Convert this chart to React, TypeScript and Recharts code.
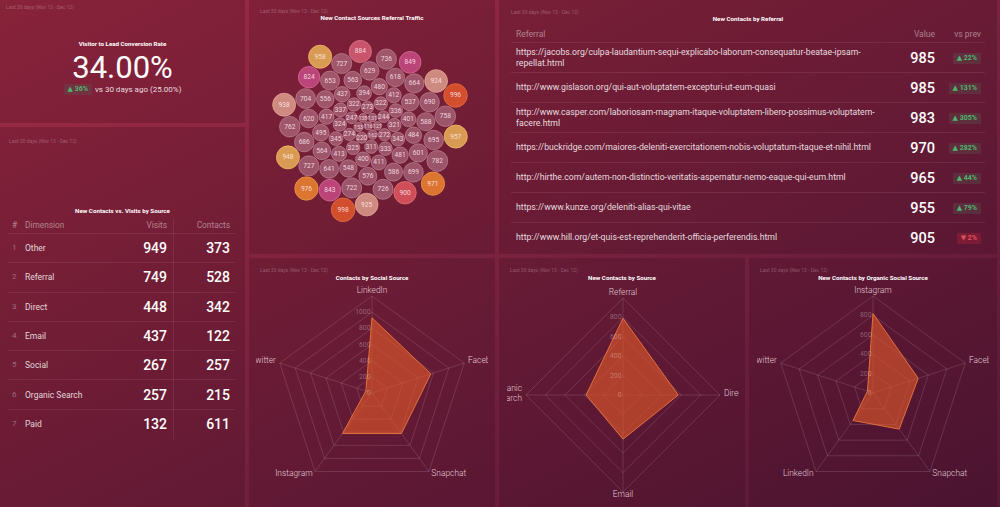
import React from 'react';
import {
  RadarChart,
  Radar,
  PolarGrid,
  PolarAngleAxis,
  PolarRadiusAxis,
  ScatterChart,
  Scatter,
  XAxis,
  YAxis,
  ZAxis,
} from 'recharts';

const FONT = 'Roboto, "Noto Sans", "DejaVu Sans", sans-serif';
const PERIOD = 'Last 30 days (Nov 13 - Dec 12)';

// KPI
const kpiTitle = 'Visitor to Lead Conversion Rate';
const kpiValue = 34.0;
const kpiPrev = 25.0;
const kpiChange = 36;

// table: contacts vs visits
const sourceTitle = 'New Contacts vs. Visits by Source';
const sourceDims = ['Other', 'Referral', 'Direct', 'Email', 'Social', 'Organic Search', 'Paid'];
const sourceVisits = [949, 749, 448, 437, 267, 257, 132];
const sourceContacts = [373, 528, 342, 122, 257, 215, 611];

// bubbles
const bubbleTitle = 'New Contact Sources Referral Traffic';
const bubbleValues = [
  537, 484, 998, 563, 576, 556, 480, 411, 958, 976, 548, 481, 394, 400, 412, 957, 971,
  629, 564, 495, 336, 401, 322, 325, 322, 653, 586, 413, 437, 343, 274, 337, 324, 924,
  996, 641, 620, 588, 417, 333, 116, 162, 321, 311, 938, 138, 153, 272, 127, 273, 220,
  664, 618, 345, 131, 704, 244, 843, 948, 686, 690, 601, 726, 736, 247, 925, 849, 699,
  695, 758, 722, 727, 727, 900, 782, 884, 762, 824,
];

// referral table
const referralTitle = 'New Contacts by Referral';
const referralUrls = [
  'https://jacobs.org/culpa-laudantium-sequi-explicabo-laborum-consequatur-beatae-ipsam-repellat.html',
  'http://www.gislason.org/qui-aut-voluptatem-excepturi-ut-eum-quasi',
  'http://www.casper.com/laboriosam-magnam-itaque-voluptatem-libero-possimus-voluptatem-facere.html',
  'https://buckridge.com/maiores-deleniti-exercitationem-nobis-voluptatum-itaque-et-nihil.html',
  'http://hirthe.com/autem-non-distinctio-veritatis-aspernatur-nemo-eaque-qui-eum.html',
  'https://www.kunze.org/deleniti-alias-qui-vitae',
  'http://www.hill.org/et-quis-est-reprehenderit-officia-perferendis.html',
];
const referralValues = [985, 985, 983, 970, 965, 955, 905];
const referralChange = [22, 131, 305, 282, 44, 79, -2];

// radars
const socialTitle = 'Contacts by Social Source';
const socialAxes = ['LinkedIn', 'Facebook', 'Snapchat', 'Instagram', 'Twitter'];
const socialValues = [930, 765, 620, 620, 80];

const channelTitle = 'New Contacts by Source';
const channelAxes = ['Referral', 'Direct', 'Email', 'Organic Search'];
const channelValues = [790, 570, 455, 380];

const organicTitle = 'New Contacts by Organic Social Source';
const organicAxes = ['Instagram', 'Facebook', 'Snapchat', 'LinkedIn', 'Twitter'];
const organicValues = [820, 490, 460, 350, 60];

const PANEL_BG = 'rgba(30,0,15,0.18)';
const LINE = 'rgba(255,255,255,0.08)';
const GREEN = '#4cb86c';
const RED = '#e0505a';

// ---------- bubble packing (layout computed from the values) ----------
const BUBBLE_MAX_V = 998;
const BUBBLE_MAX_R = 11.8;
const bubbleRadius = (v: number) => BUBBLE_MAX_R * Math.sqrt(v / BUBBLE_MAX_V);

function packBubbles(values: number[]) {
  const order = values.map((v) => ({ v, r: bubbleRadius(v) })).sort((a, b) => a.v - b.v);
  const pad = 1;
  const placed: { x: number; y: number; r: number; v: number }[] = [];
  for (const c of order) {
    if (placed.length === 0) {
      placed.push({ x: 0, y: 0, r: c.r, v: c.v });
      continue;
    }
    if (placed.length === 1) {
      placed.push({ x: placed[0].r + c.r + pad, y: 0, r: c.r, v: c.v });
      continue;
    }
    let best = { x: 0, y: 0 };
    let bestScore = Infinity;
    for (let a = 0; a < placed.length; a++) {
      for (let b = a + 1; b < placed.length; b++) {
        const A = placed[a];
        const B = placed[b];
        const ra = A.r + c.r + pad;
        const rb = B.r + c.r + pad;
        const dx = B.x - A.x;
        const dy = B.y - A.y;
        const d = Math.hypot(dx, dy);
        if (d === 0 || d > ra + rb || d < Math.abs(ra - rb)) continue;
        const l = (ra * ra - rb * rb + d * d) / (2 * d);
        const h = Math.sqrt(Math.max(0, ra * ra - l * l));
        const mx = A.x + (dx * l) / d;
        const my = A.y + (dy * l) / d;
        for (const s of [1, -1]) {
          const x = mx - (s * h * dy) / d;
          const y = my + (s * h * dx) / d;
          const score = (x / 1.1) ** 2 + y * y;
          if (score >= bestScore) continue;
          let ok = true;
          for (const P of placed) {
            if (Math.hypot(P.x - x, P.y - y) < P.r + c.r + pad - 1e-6) {
              ok = false;
              break;
            }
          }
          if (ok) {
            best = { x, y };
            bestScore = score;
          }
        }
      }
    }
    placed.push({ x: best.x, y: best.y, r: c.r, v: c.v });
  }
  const minX = Math.min(...placed.map((p) => p.x - p.r));
  const maxX = Math.max(...placed.map((p) => p.x + p.r));
  const minY = Math.min(...placed.map((p) => p.y - p.r));
  const maxY = Math.max(...placed.map((p) => p.y + p.r));
  const ox = (minX + maxX) / 2;
  const oy = (minY + maxY) / 2;
  return placed.map((p) => ({ x: p.x - ox, y: p.y - oy, z: p.v }));
}

const bubbleData = packBubbles(bubbleValues);

function bubbleColor(v: number) {
  if (v >= 990) return { fill: '#d24e2c', stroke: '#e8703f' };
  if (v >= 965) return { fill: '#db7530', stroke: '#ef9a4a' };
  if (v >= 945) return { fill: '#d99a52', stroke: '#f0bb6a' };
  if (v >= 920) return { fill: '#cf8a80', stroke: '#e6aa98' };
  if (v >= 895) return { fill: '#d04e58', stroke: '#e27078' };
  if (v >= 880) return { fill: '#c9546c', stroke: '#df7a8c' };
  if (v >= 820) return { fill: '#bb4478', stroke: '#d86a96' };
  return { fill: 'rgba(214,162,178,0.42)', stroke: 'rgba(240,205,215,0.45)' };
}

const BubbleShape = (props: any) => {
  const { cx, cy, payload } = props;
  const r = props.width ? props.width / 2 : Math.sqrt((props.size || 0) / Math.PI);
  const col = bubbleColor(payload.z);
  return (
    <g>
      <circle cx={cx} cy={cy} r={r} fill={col.fill} stroke={col.stroke} strokeWidth={0.8} />
      <text
        x={cx}
        y={cy}
        textAnchor="middle"
        dominantBaseline="central"
        fontSize={r < 5 ? 5 : 6.6}
        fill="rgba(255,236,242,0.85)"
        fontFamily={FONT}
      >
        {payload.z}
      </text>
    </g>
  );
};

// ---------- shared bits ----------
type PanelProps = {
  left: number;
  top: number;
  width: number;
  height: number;
  title?: string;
  titleY?: number;
  periodX?: number;
  periodY?: number;
  children?: React.ReactNode;
};

const Panel = ({ left, top, width, height, title, titleY = 20, periodX = 11, periodY = 12, children }: PanelProps) => (
  <div style={{ position: 'absolute', left, top, width, height, overflow: 'hidden', background: PANEL_BG }}>
    <div
      style={{
        position: 'absolute',
        left: periodX,
        top: periodY - 3,
        fontSize: 5,
        lineHeight: '6px',
        color: 'rgba(255,255,255,0.28)',
        whiteSpace: 'nowrap',
      }}
    >
      {PERIOD}
    </div>
    {title && (
      <div
        style={{
          position: 'absolute',
          left: 0,
          width: '100%',
          top: titleY - 4,
          lineHeight: '8px',
          fontSize: 6.2,
          fontWeight: 700,
          color: '#fff',
          textAlign: 'center',
        }}
      >
        {title}
      </div>
    )}
    {children}
  </div>
);

const Badge = ({ change }: { change: number }) => {
  const up = change >= 0;
  return (
    <span
      style={{
        display: 'inline-block',
        height: 11,
        lineHeight: '11px',
        padding: '0 4px',
        fontSize: 7,
        fontWeight: 700,
        color: up ? GREEN : RED,
        background: up ? 'rgba(90,90,80,0.35)' : 'rgba(210,40,60,0.28)',
        borderRadius: 1,
        whiteSpace: 'nowrap',
        verticalAlign: 'top',
      }}
    >
      {up ? '▲' : '▼'} {Math.abs(change)}%
    </span>
  );
};

// ---------- radar ----------
const RADAR_W = 232;
const RADAR_H = 222;

type RadarBlockProps = { axes: string[]; values: number[]; max: number; cy: number };

const RadarBlock = ({ axes, values, max, cy }: RadarBlockProps) => {
  const data = axes.map((axis, i) => ({ axis, value: values[i] }));
  const angleTick = (p: any) => {
    const label = String(p.payload.value);
    const lines = label.includes(' ') ? label.split(' ') : [label];
    const n = lines.length;
    return (
      <text
        x={p.x}
        y={p.y - 2}
        textAnchor={p.textAnchor}
        fontSize={8.4}
        fontWeight={300}
        fill="rgba(255,232,240,0.85)"
        stroke="none"
        fontFamily={FONT}
      >
        {lines.map((l, i) => (
          <tspan key={i} x={p.x} dy={i === 0 ? `${0.35 - (n - 1) * 0.55}em` : '1.1em'}>
            {l}
          </tspan>
        ))}
      </text>
    );
  };
  const radiusTick = (p: any) => {
    if (p.payload.value >= max) return <g />;
    return (
      <text
        x={p.x - 1.5}
        y={p.y}
        textAnchor="end"
        dominantBaseline="central"
        fontSize={6.8}
        fill="rgba(255,255,255,0.32)"
        stroke="none"
        fontFamily={FONT}
      >
        {p.payload.value}
      </text>
    );
  };
  return (
    <RadarChart
      width={RADAR_W}
      height={RADAR_H}
      data={data}
      cx={RADAR_W / 2}
      cy={cy}
      outerRadius={97}
      margin={{ top: 0, right: 0, bottom: 0, left: 0 }}
    >
      <PolarGrid stroke="rgba(255,255,255,0.13)" />
      <PolarAngleAxis dataKey="axis" tick={angleTick} tickLine={false} axisLine={false} tickSize={4} />
      <PolarRadiusAxis
        angle={90}
        domain={[0, max]}
        tickCount={max / 200 + 1}
        tick={radiusTick}
        axisLine={false}
        tickLine={false}
      />
      <Radar
        dataKey="value"
        fill="#e0582a"
        fillOpacity={0.62}
        stroke="#e2703a"
        strokeWidth={1}
        isAnimationActive={false}
      />
    </RadarChart>
  );
};

export default function App() {
  const rowH = 29.3;
  return (
    <div
      style={{
        position: 'fixed',
        left: 0,
        top: 0,
        width: 1000,
        height: 507,
        overflow: 'hidden',
        background: 'linear-gradient(to bottom right, #a02b43, #551838)',
        fontFamily: FONT,
        color: '#fff',
      }}
    >
      {/* KPI */}
      <Panel left={0} top={0} width={245} height={123} title={kpiTitle} titleY={44} periodX={6} periodY={7}>
        <div
          style={{
            position: 'absolute',
            left: 0,
            width: '100%',
            top: 52,
            lineHeight: '32px',
            fontSize: 31,
            textAlign: 'center',
          }}
        >
          {kpiValue.toFixed(2)}%
        </div>
        <div
          style={{
            position: 'absolute',
            left: 0,
            width: '100%',
            top: 83,
            height: 12,
            display: 'flex',
            justifyContent: 'center',
            alignItems: 'center',
            whiteSpace: 'nowrap',
          }}
        >
          <Badge change={kpiChange} />
          <span style={{ fontSize: 8, lineHeight: '11px', color: 'rgba(255,255,255,0.85)', marginLeft: 3 }}>
            vs 30 days ago ({kpiPrev.toFixed(2)}%)
          </span>
        </div>
      </Panel>

      {/* contacts vs visits table */}
      <Panel left={0} top={127} width={245} height={380} title={sourceTitle} titleY={84} periodX={9} periodY={14}>
        <div style={{ position: 'absolute', left: 173, top: 91, width: 1, height: 221, background: LINE }} />
        <div
          style={{
            position: 'absolute',
            left: 8,
            top: 90,
            width: 227,
            height: 16,
            lineHeight: '16px',
            borderBottom: `1px solid ${LINE}`,
            fontSize: 8.3,
            color: 'rgba(255,255,255,0.45)',
          }}
        >
          <span style={{ position: 'absolute', left: 4 }}>#</span>
          <span style={{ position: 'absolute', left: 17 }}>Dimension</span>
          <span style={{ position: 'absolute', right: 68 }}>Visits</span>
          <span style={{ position: 'absolute', right: 5 }}>Contacts</span>
        </div>
        {sourceDims.map((d, i) => (
          <div
            key={d}
            style={{
              position: 'absolute',
              left: 8,
              top: 107 + i * rowH,
              width: 227,
              height: rowH - 1,
              lineHeight: `${rowH - 1}px`,
              borderBottom: i < sourceDims.length - 1 ? `1px solid ${LINE}` : 'none',
            }}
          >
            <span style={{ position: 'absolute', left: 4, fontSize: 8, color: 'rgba(255,255,255,0.35)' }}>{i + 1}</span>
            <span style={{ position: 'absolute', left: 17, fontSize: 8.5, color: 'rgba(255,255,255,0.82)' }}>{d}</span>
            <span style={{ position: 'absolute', right: 68, fontSize: 14, fontWeight: 500 }}>{sourceVisits[i]}</span>
            <span style={{ position: 'absolute', right: 5, fontSize: 14, fontWeight: 500 }}>{sourceContacts[i]}</span>
          </div>
        ))}
      </Panel>

      {/* bubbles */}
      <Panel left={249} top={0} width={246} height={254} title={bubbleTitle} titleY={18} periodX={11} periodY={11}>
        <div style={{ position: 'absolute', left: 1, top: 26 }}>
          <ScatterChart width={240} height={210} margin={{ top: 0, right: 0, bottom: 0, left: 0 }}>
            <XAxis type="number" dataKey="x" domain={[-120, 120]} hide allowDataOverflow />
            <YAxis type="number" dataKey="y" domain={[-105, 105]} hide allowDataOverflow />
            <ZAxis type="number" dataKey="z" domain={[0, BUBBLE_MAX_V]} range={[0, Math.PI * BUBBLE_MAX_R * BUBBLE_MAX_R]} />
            <Scatter data={bubbleData} shape={BubbleShape} isAnimationActive={false} />
          </ScatterChart>
        </div>
      </Panel>

      {/* referral table */}
      <Panel left={499} top={0} width={498} height={254} title={referralTitle} titleY={19} periodX={12} periodY={12}>
        <div
          style={{
            position: 'absolute',
            left: 12,
            top: 26,
            width: 474,
            height: 16,
            lineHeight: '16px',
            borderBottom: `1px solid ${LINE}`,
            fontSize: 8.5,
            color: 'rgba(255,255,255,0.45)',
          }}
        >
          <span style={{ position: 'absolute', left: 5 }}>Referral</span>
          <span style={{ position: 'absolute', right: 50 }}>Value</span>
          <span style={{ position: 'absolute', right: 4 }}>vs prev</span>
        </div>
        {referralUrls.map((u, i) => (
          <div
            key={u}
            style={{
              position: 'absolute',
              left: 12,
              top: 43 + i * 30,
              width: 474,
              height: 29,
              borderBottom: i < referralUrls.length - 1 ? `1px solid ${LINE}` : 'none',
              display: 'flex',
              alignItems: 'center',
            }}
          >
            <div
              style={{
                marginLeft: 5,
                width: 375,
                fontSize: 8.7,
                lineHeight: '10.5px',
                color: 'rgba(255,255,255,0.85)',
              }}
            >
              {u}
            </div>
            <div
              style={{
                position: 'absolute',
                right: 50,
                top: 1,
                height: 29,
                lineHeight: '29px',
                fontSize: 14.5,
                fontWeight: 500,
              }}
            >
              {referralValues[i]}
            </div>
            <div style={{ position: 'absolute', right: 4, top: 10, height: 11, display: 'flex' }}>
              <Badge change={referralChange[i]} />
            </div>
          </div>
        ))}
      </Panel>

      {/* radars */}
      <Panel left={249} top={258} width={246} height={249} title={socialTitle}>
        <div style={{ position: 'absolute', left: 7, top: 22 }}>
          <RadarBlock axes={socialAxes} values={socialValues} max={1200} cy={113} />
        </div>
      </Panel>
      <Panel left={499} top={258} width={246} height={249} title={channelTitle}>
        <div style={{ position: 'absolute', left: 8, top: 22 }}>
          <RadarBlock axes={channelAxes} values={channelValues} max={1000} cy={115} />
        </div>
      </Panel>
      <Panel left={749} top={258} width={248} height={249} title={organicTitle}>
        <div style={{ position: 'absolute', left: 8, top: 22 }}>
          <RadarBlock axes={organicAxes} values={organicValues} max={1000} cy={113} />
        </div>
      </Panel>
    </div>
  );
}
